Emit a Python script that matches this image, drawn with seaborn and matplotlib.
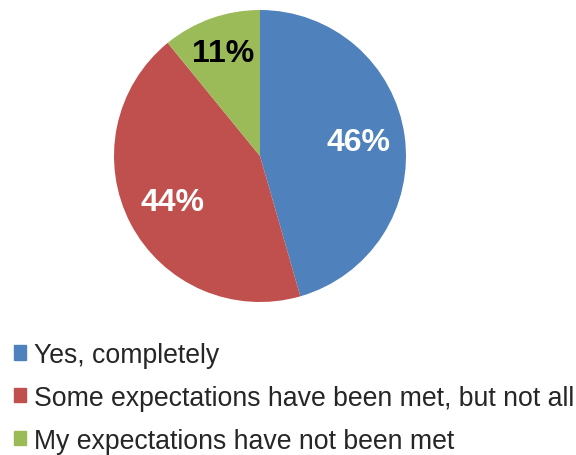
import matplotlib
matplotlib.use("Agg")
import matplotlib.pyplot as plt
from matplotlib.patches import Rectangle
import seaborn as sns

categories = ["Yes, completely",
              "Some expectations have been met, but not all",
              "My expectations have not been met"]
shares = [46, 44, 11]
label_colors = ["white", "white", "black"]

sns.set_theme(style="white")
plt.rcParams["font.family"] = ["Liberation Sans", "DejaVu Sans"]
palette = ["#4F81BD", "#C0504D", "#9BBB59"]

fig = plt.figure(figsize=(5.76, 4.56), dpi=100)
ax = fig.add_axes([114 / 576, 1 - 303 / 456, 292 / 576, 292 / 456])

wedges, texts, autotexts = ax.pie(
    shares, colors=palette, startangle=90, counterclock=False,
    autopct=lambda p: f"{p * sum(shares) / 100:.0f}%", pctdistance=0.68,
    wedgeprops=dict(linewidth=0), radius=1.0,
)
for t, c in zip(autotexts, label_colors):
    t.set_color(c)
    t.set_fontsize(23)
    t.set_fontweight("bold")
# nudge the small-slice label outward a little
x, y = autotexts[2].get_position()
autotexts[2].set_position((x * 1.1, y * 1.1))
ax.set_xlim(-1, 1)
ax.set_ylim(-1, 1)
ax.set_aspect("equal")
ax.axis("off")

handles = [Rectangle((0, 0), 1, 1, color=c) for c in palette]
fig.legend(handles, categories, loc="upper left",
           bbox_to_anchor=(14 / 576, 1 - 343 / 456),
           frameon=False, fontsize=19.2, handlelength=0.45, handleheight=0.45,
           handletextpad=0.3, labelspacing=0.63, borderpad=0, borderaxespad=0)

fig.savefig("out.png", dpi=100)
